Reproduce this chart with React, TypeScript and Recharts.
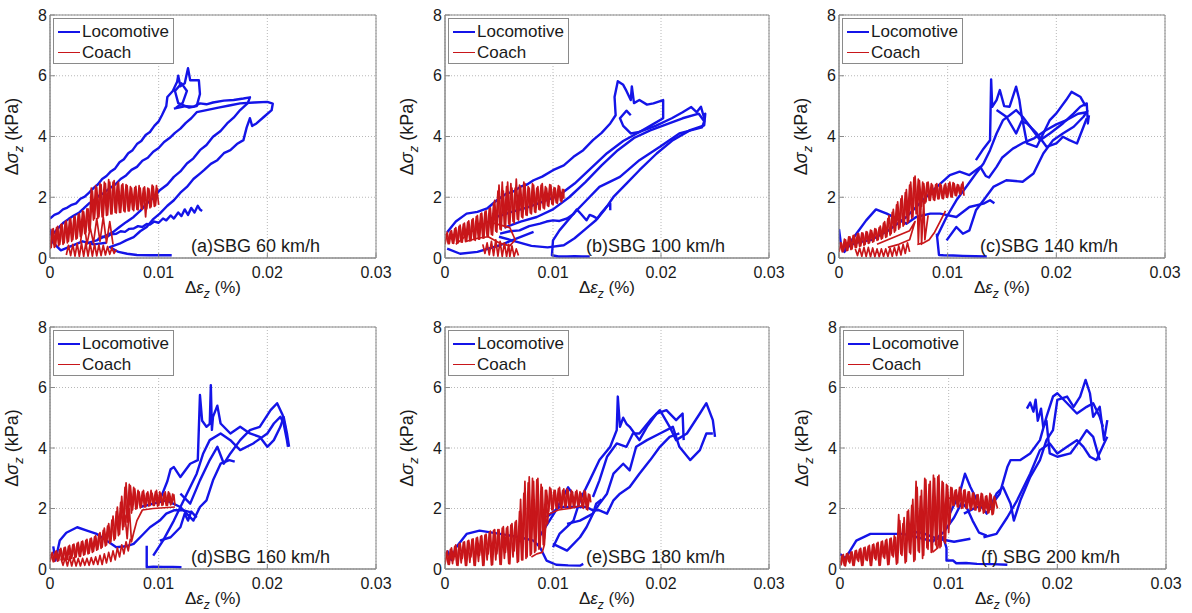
import React from 'react';
import { LineChart, Line, XAxis, YAxis, CartesianGrid, ReferenceArea } from 'recharts';

type Seg = number[][];

const seriesNames = ['Locomotive', 'Coach'];
const panelTitles = [
  '(a)SBG 60 km/h',
  '(b)SBG 100 km/h',
  '(c)SBG 140 km/h',
  '(d)SBG 160 km/h',
  '(e)SBG 180 km/h',
  '(f) SBG 200 km/h',
];
const xTicks = [0, 0.01, 0.02, 0.03];
const yTicks = [0, 2, 4, 6, 8];

// (a) 60 km/h  -- points are [strain %, stress kPa]
const locoA: Seg[] = [
  [[0, 1.3], [.0004, 1.42], [.0008, 1.48], [.0012, 1.6], [.0016, 1.66], [.002, 1.75], [.0024, 1.8], [.0028, 1.95], [.0032, 2.02], [.0036, 2.15], [.004, 2.3], [.0044, 2.42], [.0048, 2.6], [.0052, 2.7], [.0056, 2.85], [.006, 2.95], [.0064, 3.15], [.0068, 3.25], [.0072, 3.45], [.0076, 3.55], [.008, 3.75], [.0084, 3.85], [.0088, 4.05], [.0092, 4.15], [.0096, 4.35], [.01, 4.5], [.0103, 4.7], [.0107, 5.0], [.0108, 5.3], [.0113, 5.5], [.0117, 5.8], [.0118, 6.0], [.012, 5.65], [.0124, 5.75], [.0127, 6.25], [.0129, 5.85], [.0137, 5.85], [.0138, 5.4], [.0135, 5.0], [.0128, 4.95], [.0118, 5.1], [.0115, 5.5], [.0121, 5.75], [.0126, 5.5], [.0122, 5.1], [.0116, 4.95]],
  [[.0114, 4.92], [.0125, 5.0], [.0132, 4.98], [.0138, 5.09], [.0144, 5.06], [.015, 5.12], [.016, 5.18], [.0169, 5.2], [.0178, 5.25], [.0184, 5.29], [.0182, 5.1], [.0175, 4.87], [.0169, 4.62], [.0163, 4.43], [.0157, 4.18], [.015, 3.99], [.0144, 3.72], [.0138, 3.55], [.0132, 3.28], [.0126, 3.11], [.012, 2.85], [.0114, 2.67], [.0108, 2.42], [.0101, 2.23], [.0095, 1.98], [.0089, 1.79], [.0083, 1.55], [.0077, 1.35], [.007, 1.18], [.0064, 1.02], [.0058, .85], [.0052, 0.75], [.0043, 0.58], [.0035, 0.5]],
  [[.0003, .8], [.0008, 1.0], [.0012, 1.15], [.0017, 1.28], [.0022, 1.4], [.0027, 1.5], [.0031, 1.63], [.0036, 1.8], [.004, 1.88], [.0045, 2.05], [.005, 2.15], [.0055, 2.3], [.006, 2.42], [.0065, 2.6], [.007, 2.72], [.0075, 2.9], [.008, 3.0], [.0085, 3.2], [.009, 3.3], [.0095, 3.5], [.01, 3.62], [.0105, 3.82], [.011, 3.95], [.0115, 4.12], [.012, 4.26], [.0125, 4.45], [.013, 4.6], [.0135, 4.8], [.0144, 4.87], [.0155, 4.95], [.0165, 5.02], [.0175, 5.09], [.0188, 5.12], [.02, 5.14], [.0205, 5.08], [.0204, 4.87], [.0197, 4.65], [.019, 4.43], [.0186, 4.35], [.0184, 4.6], [.0181, 4.3], [.0178, 3.88], [.0172, 3.75], [.0166, 3.55], [.016, 3.45], [.0154, 3.22], [.0148, 3.1], [.0142, 2.9], [.0138, 2.78], [.0132, 2.6], [.0126, 2.34], [.012, 2.15], [.0114, 1.9], [.0108, 1.72], [.0101, 1.46], [.0095, 1.28], [.0089, 1.02], [.0083, .88], [.0077, .69], [.007, .58], [.0064, .47], [.0055, .36], [.0063, 0.2], [.0071, 0.14], [.008, 0.1], [.0092, 0.09], [.0102, 0.09], [.0112, 0.09]],
  [[.0044, .62], [.0048, .7], [.0052, .68], [.0056, .78], [.0061, .8], [.0065, .88], [.0069, .86], [.0073, .96], [.0077, .97], [.0081, 1.05], [.0085, 1.02], [.0089, 1.12], [.0092, 1.1], [.0096, 1.2], [.01, 1.16], [.0104, 1.3], [.0107, 1.24], [.0111, 1.4], [.0114, 1.3], [.0118, 1.5], [.0121, 1.38], [.0124, 1.6], [.0127, 1.42], [.013, 1.65], [.0133, 1.5], [.0136, 1.72], [.0138, 1.6], [.014, 1.55]],
  [[0, 0.95], [.0003, 0.5], [.001, 0.25], [.002, 0.4], [.003, 0.55], [.004, 0.45], [.0052, 0.5]],
];
const coachA: Seg[] = [
  [[0, .3], [.0002, .94], [.0004, .35], [.0006, 1.0], [.0008, .4], [.001, 1.1], [.0012, .45], [.0014, 1.18], [.0016, .5], [.0018, 1.26], [.002, .55], [.0022, 1.34], [.0024, .62], [.0026, 1.44], [.0028, .7], [.003, 1.55], [.0032, .8], [.0034, 1.62], [.0036, .9], [.0038, 2.3], [.004, 1.25], [.0042, 2.38], [.0044, 1.3], [.0046, 2.45], [.0048, 1.35], [.005, 2.5], [.0052, 1.4], [.0054, 2.58], [.0056, 1.45], [.0058, 2.5], [.006, 1.5], [.0062, 2.45], [.0064, 1.5], [.0066, 2.4], [.0068, 1.55], [.007, 2.42], [.0072, 1.55], [.0074, 2.35], [.0076, 1.6], [.0078, 2.32], [.008, 1.6], [.0082, 2.38], [.0084, 1.62], [.0086, 2.3], [.0088, 1.35], [.009, 2.3], [.0092, 1.65], [.0094, 2.4], [.0096, 1.7], [.0098, 2.38], [.01, 1.75]],
  [[.0099, 2.3], [.0097, 1.72], [.0095, 2.36], [.0093, 1.68], [.0091, 2.28], [.0089, 1.62], [.0087, 2.34], [.0085, 1.6], [.0083, 2.3], [.0081, 1.58], [.0079, 2.36], [.0077, 1.56], [.0075, 2.3], [.0073, 1.55], [.0071, 2.38], [.0069, 1.52], [.0067, 2.44], [.0065, 1.5], [.0063, 2.5], [.0061, 1.48], [.0059, 2.55], [.0057, 1.45], [.0055, 2.5], [.0053, 1.42], [.0051, 2.45], [.0049, 1.38], [.0047, 2.42], [.0045, 1.35], [.0043, 2.32], [.0041, 1.3], [.0039, 2.2], [.0037, 1.0], [.0035, 1.62], [.0033, .85], [.0031, 1.52], [.0029, .75], [.0027, 1.46], [.0025, .65], [.0023, 1.38], [.0021, .6], [.0019, 1.3], [.0017, .55], [.0015, 1.22], [.0013, .5], [.0011, 1.12], [.0009, .45], [.0007, 1.04], [.0005, .38], [.0003, .97], [.0001, .32]],
  [[.0015, .1], [.0017, .42], [.0019, .08], [.0021, .45], [.0023, .06], [.0025, .48], [.0027, .05], [.0029, .5], [.0031, .05], [.0033, .5], [.0035, .06], [.0037, .48], [.0039, .06], [.0041, .46], [.0043, .07], [.0045, .44], [.0047, .08], [.0049, .42], [.0051, .1], [.0053, .38], [.0055, .12], [.0057, .34], [.0059, .15], [.0061, .28]],
  [[.0028, .5], [.0031, 1.3], [.0034, .45], [.0037, 1.0], [.004, .5], [.0043, 1.3], [.0046, .55], [.0049, 1.35], [.0052, .5], [.0055, 1.2], [.0058, .45]],
];

// (b) 100 km/h
const locoB: Seg[] = [
  [[.0002, 0.85], [.001, 1.2], [.002, 1.46], [.003, 1.52], [.0039, 1.63], [.0048, 1.9], [.0057, 2.12], [.0064, 2.2], [.007, 2.35], [.0076, 2.42], [.0082, 2.56], [.009, 2.68], [.01, 2.89], [.011, 3.05], [.0119, 3.33], [.0128, 3.55], [.0137, 3.88], [.0145, 4.12], [.0153, 4.43], [.0158, 4.7], [.0157, 5.3], [.016, 5.82], [.0165, 5.7], [.0168, 5.5], [.0172, 5.2], [.0173, 5.65], [.0175, 5.1], [.018, 5.2], [.0187, 5.05], [.0193, 5.09], [.0202, 5.2], [.0202, 4.6], [.019, 4.35], [.018, 4.15], [.0172, 4.1], [.0165, 4.35], [.0162, 4.6], [.0168, 4.85], [.0172, 4.7]],
  [[.0047, 1.35], [.006, 1.5], [.0075, 1.65], [.009, 1.85], [.0105, 2.05], [.012, 2.45], [.0135, 2.95], [.015, 3.45], [.0165, 3.85], [.018, 4.15], [.0195, 4.35], [.021, 4.6], [.022, 4.8], [.0228, 4.97], [.0233, 4.8], [.0237, 4.98], [.024, 4.6], [.0241, 4.75], [.024, 4.37], [.0227, 4.21], [.0211, 3.88], [.0196, 3.44], [.018, 2.89], [.0168, 2.45], [.0156, 2.01], [.0148, 1.6], [.014, 1.25], [.013, 0.95], [.012, 0.65], [.011, 0.42], [.0095, 0.35], [.008, 0.4], [.0065, 0.55], [.005, 0.7]],
  [[.0055, 1.0], [.007, 1.2], [.0085, 1.35], [.01, 1.6], [.0115, 2.0], [.013, 2.5], [.0145, 3.05], [.016, 3.55], [.0175, 3.95], [.019, 4.2], [.0205, 4.4], [.022, 4.6], [.0235, 4.75], [.024, 4.5], [.0238, 4.3], [.0217, 4.1], [.0199, 3.66], [.018, 3.22], [.0162, 2.67], [.0143, 2.34], [.0131, 1.9], [.0119, 1.46], [.0106, 0.91], [.01, 0.58], [.0099, 0.09], [.0105, 0.05], [.0113, 0.05], [.012, 0.06], [.0127, 0.05], [.0134, 0.05]],
  [[.0051, 0.8], [.006, .88], [.0069, 0.91], [.0078, 1.05], [.0088, 1.13], [.0094, 1.2], [.01, 1.24], [.0106, 1.22], [.0113, 1.3], [.0119, 1.45], [.0122, 1.6], [.0126, 1.45], [.0131, 1.24], [.0134, 1.42], [.0137, 1.38], [.0141, 1.3], [.0145, 1.5], [.015, 1.7], [.0153, 1.79], [.0153, 1.57]],
  [[.0002, 0.31], [.0014, 0.14], [.003, 0.2], [.0051, 0.42], [.0066, 0.64], [.0082, 0.86]],
];
const coachB: Seg[] = [
  [[0, .45], [.0002, .85], [.0004, .47], [.0006, .9], [.0008, .48], [.001, 1.0], [.0012, .5], [.0014, 1.08], [.0016, .52], [.0018, 1.15], [.002, .55], [.0022, 1.22], [.0024, .57], [.0026, 1.3], [.0028, .58], [.003, 1.4], [.0032, .62], [.0034, 1.48], [.0036, .65], [.0038, 1.55], [.004, .7], [.0042, 1.65], [.0044, .75], [.0046, 1.9], [.0048, .85], [.005, 2.4], [.0052, .92], [.0054, 2.2], [.0056, 1.0], [.0058, 2.5], [.006, 1.1], [.0062, 2.3], [.0064, 1.15], [.0066, 2.6], [.0068, 1.25], [.007, 2.35], [.0072, 1.32], [.0074, 2.45], [.0076, 1.4], [.0078, 2.3], [.008, 1.45], [.0082, 2.4], [.0084, 1.5], [.0086, 2.35], [.0088, 1.58], [.009, 2.45], [.0092, 1.62], [.0094, 2.3], [.0096, 1.7], [.0098, 2.4], [.01, 1.75], [.0102, 2.3], [.0104, 1.8], [.0106, 2.35], [.0108, 1.85], [.011, 2.25], [.011, 1.95]],
  [[.0109, 2.28], [.0107, 1.88], [.0105, 2.38], [.0103, 1.82], [.0101, 2.32], [.0099, 1.78], [.0097, 2.42], [.0095, 1.72], [.0093, 2.35], [.0091, 1.65], [.0089, 2.4], [.0087, 1.6], [.0085, 2.3], [.0083, 1.52], [.0081, 2.45], [.0079, 1.48], [.0077, 2.35], [.0075, 1.42], [.0073, 2.5], [.0071, 1.35], [.0069, 2.4], [.0067, 1.28], [.0065, 2.3], [.0063, 1.2], [.0061, 2.45], [.0059, 1.12], [.0057, 2.35], [.0055, 1.05], [.0053, 2.5], [.0051, .95], [.0049, 2.2], [.0047, .88], [.0045, 1.8], [.0043, .78], [.0041, 1.62], [.0039, .72], [.0037, 1.52], [.0035, .66], [.0033, 1.45], [.0031, .62], [.0029, 1.36], [.0027, .6], [.0025, 1.26], [.0023, .56], [.0021, 1.18], [.0019, .54], [.0017, 1.12], [.0015, .52], [.0013, 1.04], [.0011, .5], [.0009, .96], [.0007, .49], [.0005, .88], [.0003, .47], [.0001, .8]],
  [[.0035, .45], [.0037, .15], [.0039, .5], [.0041, .1], [.0043, .55], [.0045, .08], [.0047, .6], [.0049, .06], [.0051, .55], [.0053, .05], [.0055, .5], [.0057, .05], [.0059, .45], [.006, .05], [.0062, .4], [.0064, .05], [.0066, .3], [.0068, .08]],
  [[.001, .45], [.002, .75], [.003, 1.0], [.004, 1.2], [.005, 1.1], [.006, 1.0], [.0065, .6], [.006, .4], [.005, .5], [.004, .7], [.003, .65], [.002, .55]],
];

// (c) 140 km/h
const locoC: Seg[] = [
  [[0, 0.95], [.0002, 0.4], [.0005, 0.2], [.001, 0.5], [.0016, 0.8], [.0025, 1.24], [.0034, 1.6], [.0044, 1.46], [.0056, 1.24], [.0062, 1.13], [.0071, 1.35], [.0084, 1.46], [.0093, 1.46], [.0108, 1.35], [.012, 1.68], [.0133, 1.79], [.0139, 1.9], [.0143, 1.8]],
  [[.0005, 0.3], [.0015, 0.5], [.003, 0.6], [.0045, 0.9], [.0062, 1.35], [.0077, 1.9], [.009, 2.34], [.0102, 2.73], [.0111, 2.84], [.012, 2.73], [.013, 3.0], [.0135, 2.7], [.0138, 2.65], [.0145, 3.0], [.015, 3.3], [.016, 3.6], [.017, 3.8], [.018, 3.95], [.019, 4.2], [.02, 4.4], [.021, 4.55], [.022, 4.75], [.0228, 4.8]],
  [[.009, 0.69], [.0099, 1.35], [.0108, 1.9], [.0117, 2.34], [.0126, 2.78], [.0133, 3.11], [.0139, 3.55], [.0145, 4.1], [.0151, 4.54], [.0157, 4.7], [.0163, 4.87], [.0169, 4.65], [.0176, 4.32], [.0185, 3.88], [.0194, 4.1], [.0206, 4.43], [.0216, 4.76], [.0222, 4.98], [.0228, 5.09], [.0229, 4.43], [.023, 4.7]],
  [[.0099, 0.58], [.0108, 1.02], [.0114, 0.8], [.012, 0.91], [.0126, 1.57], [.0133, 1.9], [.0142, 2.34], [.0154, 2.56], [.0169, 2.51], [.0179, 2.78], [.0188, 3.44], [.0197, 3.88], [.0206, 4.1], [.0216, 4.32], [.0225, 4.65], [.0229, 4.87]],
  [[.0126, 3.22], [.0133, 3.6], [.0139, 3.88], [.014, 5.88], [.0141, 4.98], [.0145, 5.2], [.0148, 5.53], [.0152, 5.0], [.0157, 4.98], [.0163, 5.64], [.0166, 5.2], [.0168, 4.7], [.0173, 3.77], [.0182, 3.66], [.0188, 4.1], [.0194, 4.54], [.02, 4.76], [.0209, 5.2], [.0214, 5.47], [.0222, 5.31], [.0227, 5.0]],
  [[.0145, 4.87], [.0154, 4.65], [.0163, 4.1], [.0168, 4.5], [.0173, 4.43], [.0182, 4.1], [.0191, 3.66], [.02, 3.77], [.0206, 3.99], [.0212, 3.88], [.0219, 3.77], [.0225, 4.32], [.0228, 4.6]],
  [[.009, 0.8], [.0092, 0.1], [.0096, 0.09], [.0105, 0.08], [.0114, 0.07], [.0125, 0.06], [.0136, 0.05]],
];
const coachC: Seg[] = [
  [[0, .2], [.0002, .5], [.0004, .22], [.0006, .6], [.0008, .25], [.001, .7], [.0012, .3], [.0014, .75], [.0016, .35], [.0018, .8], [.002, .4], [.0022, .82], [.0024, .45], [.0026, .85], [.0028, .5], [.003, .9], [.0032, .55], [.0034, .95], [.0036, .6], [.0038, 1.05], [.004, .65], [.0042, 1.2], [.0044, .7], [.0046, 1.4], [.0048, .8], [.005, 1.6], [.0052, .9], [.0054, 1.85], [.0056, 1.0], [.0058, 2.05], [.006, 1.1], [.0062, 2.25], [.0064, 1.2], [.0066, 2.5], [.0068, 1.35], [.007, 2.7], [.0072, 1.5], [.0074, 2.55], [.0076, 1.7], [.0078, 2.45], [.008, 1.85], [.0082, 2.5], [.0084, 1.9], [.0086, 2.4], [.0088, 1.9], [.009, 2.45], [.0092, 1.95], [.0094, 2.4], [.0096, 1.95], [.0098, 2.45], [.01, 2.0], [.0102, 2.5], [.0104, 2.0], [.0106, 2.45], [.0108, 2.05], [.011, 2.4], [.0112, 2.1], [.0114, 2.5], [.0115, 2.05]],
  [[.0113, 2.45], [.0111, 2.12], [.0109, 2.42], [.0107, 2.06], [.0105, 2.48], [.0103, 2.02], [.0101, 2.45], [.0099, 2.0], [.0097, 2.4], [.0095, 1.96], [.0093, 2.45], [.0091, 1.95], [.0089, 2.42], [.0087, 1.92], [.0085, 2.45], [.0083, 1.9], [.0081, 2.48], [.0079, 1.8], [.0077, 2.5], [.0075, 1.6], [.0073, 2.6], [.0071, 1.45], [.0069, 2.65], [.0067, 1.3], [.0065, 2.4], [.0063, 1.15], [.0061, 2.15], [.0059, 1.05], [.0057, 1.95], [.0055, .95], [.0053, 1.75], [.0051, .85], [.0049, 1.5], [.0047, .75], [.0045, 1.3], [.0043, .68], [.0041, 1.15], [.0039, .62], [.0037, 1.0], [.0035, .58], [.0033, .97], [.0031, .52], [.0029, .92], [.0027, .48], [.0025, .87], [.0023, .42], [.0021, .83], [.0019, .38], [.0017, .8], [.0015, .34], [.0013, .74], [.0011, .28], [.0009, .7], [.0007, .24], [.0005, .62], [.0003, .2], [.0001, .52]],
  [[.0015, .3], [.0017, .08], [.0019, .32], [.0021, .06], [.0023, .35], [.0025, .05], [.0027, .35], [.0029, .04], [.0031, .33], [.0033, .04], [.0035, .3], [.0037, .04], [.0039, .3], [.0041, .05], [.0043, .3], [.0045, .05], [.0047, .32], [.0049, .06], [.0051, .35], [.0053, .08], [.0055, .4], [.0057, .1], [.0059, .45], [.0061, .15], [.0063, .5], [.0065, .2]],
  [[.0072, 2.0], [.0073, .5], [.0075, 2.1], [.0076, .45], [.0078, 1.9], [.0079, .6], [.0082, 1.4]],
  [[.0098, 1.55], [.0093, 1.2], [.0088, .85], [.0083, .6], [.0078, .5], [.0072, .45]],
  [[.0035, .45], [.0045, .6], [.0055, .75], [.0065, .9], [.007, 1.2], [.0065, .6], [.0055, .45], [.0045, .35]],
];

// (d) 160 km/h
const locoD: Seg[] = [
  [[.0003, 0.75], [.0005, 0.28], [.0009, 0.94], [.0015, 1.2], [.0025, 1.38], [.0034, 1.27], [.0043, 1.16], [.0052, 0.94], [.0061, 0.72], [.007, 0.75], [.0077, 0.83], [.0083, 1.05], [.0092, 1.38], [.0101, 1.6], [.0107, 1.83], [.0114, 1.94], [.0123, 1.94], [.0129, 1.88]],
  [[.0095, 0.44], [.0104, 0.94], [.0114, 1.6], [.012, 2.05], [.0126, 2.49], [.0135, 3.15], [.0141, 3.82], [.0147, 4.26], [.0157, 4.48], [.0166, 4.26], [.0175, 3.93], [.0187, 4.15], [.02, 4.48], [.0206, 4.81], [.0212, 5.03], [.0215, 4.81], [.0218, 4.26], [.0219, 4.04]],
  [[.0101, 2.27], [.0108, 2.9], [.0111, 3.3], [.0114, 3.37], [.012, 3.04], [.0129, 3.48], [.0136, 3.6], [.0138, 5.75], [.014, 4.9], [.0144, 4.7], [.0147, 4.8], [.0148, 6.08], [.0149, 4.6], [.015, 5.03], [.0154, 5.4], [.0157, 4.81], [.0166, 4.48], [.0175, 4.7], [.0184, 4.48], [.0193, 4.37], [.02, 4.04], [.0206, 4.26], [.0212, 4.7], [.0215, 5.03], [.0218, 4.5], [.022, 4.04]],
  [[.012, 2.49], [.0129, 2.16], [.0138, 2.93], [.0147, 3.6], [.0154, 4.04], [.016, 3.48], [.0166, 3.82], [.0175, 4.26], [.0184, 4.59], [.0193, 4.7], [.0203, 5.25], [.0209, 5.48], [.0214, 5.1], [.0217, 4.6]],
  [[.0083, 2.05], [.0095, 2.16], [.0107, 2.27], [.012, 2.05], [.0132, 1.6], [.0138, 2.05], [.0144, 2.27], [.015, 2.93], [.0157, 3.48], [.0165, 3.6], [.017, 3.55]],
  [[.0089, 0.77], [.0089, 0.06], [.0095, 0.08], [.0104, 0.07], [.0113, 0.07], [.0121, 0.06]],
  [[.0101, 0.94], [.0111, 1.05], [.012, 1.38], [.0124, 1.83], [.0127, 1.6], [.013, 1.9], [.0135, 1.7]],
];
const coachD: Seg[] = [
  [[0, .25], [.0002, .55], [.0004, .25], [.0006, .6], [.0008, .28], [.001, .68], [.0012, .3], [.0014, .72], [.0016, .32], [.0018, .78], [.002, .35], [.0022, .82], [.0024, .4], [.0026, .88], [.0028, .42], [.003, .92], [.0032, .48], [.0034, .98], [.0036, .52], [.0038, 1.02], [.004, .58], [.0042, 1.1], [.0044, .65], [.0046, 1.2], [.0048, .72], [.005, 1.35], [.0052, .8], [.0054, 1.5], [.0056, .9], [.0058, 1.75], [.006, 1.0], [.0062, 2.05], [.0064, 1.15], [.0066, 2.4], [.0068, 1.4], [.007, 2.85], [.0072, 1.7], [.0074, 2.75], [.0076, 1.95], [.0078, 2.65], [.008, 2.0], [.0082, 2.55], [.0084, 2.05], [.0086, 2.6], [.0088, 2.05], [.009, 2.55], [.0092, 2.1], [.0094, 2.5], [.0096, 2.1], [.0098, 2.6], [.01, 2.1], [.0102, 2.5], [.0104, 2.12], [.0106, 2.55], [.0108, 2.1], [.011, 2.5], [.0112, 2.15], [.0114, 2.45], [.0115, 2.1]],
  [[.0113, 2.5], [.0111, 2.12], [.0109, 2.55], [.0107, 2.1], [.0105, 2.5], [.0103, 2.1], [.0101, 2.55], [.0099, 2.08], [.0097, 2.55], [.0095, 2.1], [.0093, 2.6], [.0091, 2.08], [.0089, 2.5], [.0087, 2.05], [.0085, 2.55], [.0083, 2.02], [.0081, 2.6], [.0079, 1.98], [.0077, 2.7], [.0075, 1.85], [.0073, 2.8], [.0071, 1.55], [.0069, 2.7], [.0067, 1.3], [.0065, 2.2], [.0063, 1.1], [.0061, 1.9], [.0059, .95], [.0057, 1.62], [.0055, .85], [.0053, 1.42], [.0051, .76], [.0049, 1.28], [.0047, .68], [.0045, 1.15], [.0043, .62], [.0041, 1.06], [.0039, .55], [.0037, 1.0], [.0035, .5], [.0033, .95], [.0031, .46], [.0029, .9], [.0027, .42], [.0025, .85], [.0023, .38], [.0021, .8], [.0019, .34], [.0017, .75], [.0015, .3], [.0013, .7], [.0011, .28], [.0009, .64], [.0007, .26], [.0005, .58], [.0003, .24], [.0001, .5]],
  [[.001, .35], [.0012, .12], [.0014, .38], [.0016, .1], [.0018, .4], [.002, .1], [.0022, .38], [.0024, .1], [.0026, .35], [.0028, .1], [.003, .35], [.0032, .12], [.0034, .35], [.0036, .12], [.0038, .38], [.004, .15], [.0042, .4], [.0044, .15], [.0046, .45], [.0048, .15], [.005, .5], [.0052, .2], [.0054, .55], [.0056, .25], [.0058, .6], [.006, .3], [.0062, .7], [.0064, .4], [.0066, .8], [.0068, .5], [.007, .9], [.0072, .6], [.0074, 1.0]],
  [[.0115, 2.05], [.0095, 2.0], [.0085, 1.95], [.008, 1.6], [.0077, 1.2], [.0075, .9], [.0073, 2.0], [.0071, 1.0], [.0069, 1.8]],
];

// (e) 180 km/h
const locoE: Seg[] = [
  [[.0002, 0.61], [.0006, 0.3], [.001, 0.7], [.002, 1.16], [.0032, 1.27], [.0051, 1.16], [.0069, 1.05], [.0082, 0.94], [.0088, 0.72], [.0094, 0.28], [.0103, 0.14], [.0114, 0.12], [.0125, 0.11], [.0128, 0.17]],
  [[.01, 0.72], [.0106, 1.16], [.0119, 1.6], [.0125, 2.27], [.0134, 2.93], [.0143, 3.6], [.0153, 4.04], [.0159, 4.59], [.016, 5.7], [.0162, 4.7], [.0165, 5.0], [.0168, 4.8], [.0171, 4.7], [.018, 4.26], [.0187, 4.7], [.0196, 5.14], [.0205, 5.25], [.0214, 4.92], [.022, 5.14], [.0221, 4.26]],
  [[.0113, 1.49], [.0125, 1.6], [.0137, 1.83], [.0143, 2.16], [.015, 2.49], [.0156, 3.15], [.0165, 3.48], [.0171, 3.26], [.0177, 4.04], [.0187, 4.26], [.0199, 4.48], [.0211, 4.7], [.0217, 4.04], [.0227, 3.6], [.0236, 3.93], [.0242, 4.48], [.0248, 4.48]],
  [[.0137, 2.38], [.0143, 2.93], [.015, 3.71], [.0159, 4.15], [.0168, 4.04], [.0174, 4.48], [.018, 4.48], [.019, 4.92], [.0199, 5.25], [.0208, 4.7], [.0214, 4.26], [.0224, 4.48], [.0236, 5.14], [.0242, 5.48], [.0248, 4.92], [.025, 4.37]],
  [[.0094, 1.71], [.0106, 2.05], [.0119, 2.05], [.0131, 2.05], [.0137, 1.94], [.0143, 1.94], [.015, 1.83], [.0156, 2.27], [.0162, 2.49], [.0171, 2.71], [.018, 3.15], [.019, 3.6], [.0199, 4.04], [.0208, 4.37], [.0217, 4.48]],
  [[.01, 0.83], [.0113, 0.61], [.0125, 1.05], [.0131, 1.38], [.0137, 1.83], [.014, 2.16], [.0145, 2.3]],
  [[.0088, 1.1], [.0095, 1.5], [.0102, 1.9], [.0108, 2.3], [.0114, 2.7], [.0118, 2.5]],
];
const coachE: Seg[] = [
  [[0, .15], [.0002, .6], [.0004, .15], [.0006, .7], [.0008, .3], [.001, .8], [.0012, .12], [.0014, .85], [.0016, .35], [.0018, .9], [.002, .12], [.0022, .95], [.0024, .4], [.0026, 1.0], [.0028, .12], [.003, 1.05], [.0032, .45], [.0034, 1.1], [.0036, .12], [.0038, 1.15], [.004, .5], [.0042, 1.25], [.0044, .14], [.0046, 1.3], [.0048, .5], [.005, 1.3], [.0052, .15], [.0054, 1.4], [.0056, .55], [.0058, 1.4], [.006, .17], [.0062, 1.5], [.0064, .6], [.0066, 1.6], [.0068, .25], [.007, 2.3], [.0072, .3], [.0074, 2.9], [.0076, .4], [.0078, 3.05], [.008, .5], [.0082, 2.9], [.0084, .6], [.0086, 3.0], [.0088, .7], [.009, 2.7], [.0092, 1.0], [.0094, 2.6], [.0096, 1.9], [.0098, 2.65], [.01, 1.95], [.0102, 2.6], [.0104, 2.0], [.0106, 2.7], [.0108, 2.0], [.011, 2.65], [.0112, 2.05], [.0114, 2.6], [.0116, 2.0], [.0118, 2.55], [.012, 2.05], [.0122, 2.6], [.0124, 2.1], [.0126, 2.5], [.0128, 2.0], [.013, 2.55], [.0132, 1.95], [.0134, 2.45], [.0135, 2.2]],
  [[.0133, 2.5], [.0131, 1.98], [.0129, 2.6], [.0127, 2.05], [.0125, 2.55], [.0123, 2.12], [.0121, 2.55], [.0119, 2.05], [.0117, 2.6], [.0115, 2.02], [.0113, 2.65], [.0111, 2.05], [.0109, 2.6], [.0107, 2.02], [.0105, 2.65], [.0103, 2.0], [.0101, 2.6], [.0099, 1.95], [.0097, 2.7], [.0095, 1.5], [.0093, 2.6], [.0091, .8], [.0089, 2.8], [.0087, .65], [.0085, 2.95], [.0083, .55], [.0081, 3.0], [.0079, .45], [.0077, 2.85], [.0075, .35], [.0073, 2.5], [.0071, .3], [.0069, 1.9], [.0067, .22], [.0065, 1.55], [.0063, .4], [.0061, 1.45], [.0059, .18], [.0057, 1.35], [.0055, .35], [.0053, 1.35], [.0051, .15], [.0049, 1.3], [.0047, .3], [.0045, 1.28], [.0043, .13], [.0041, 1.2], [.0039, .3], [.0037, 1.12], [.0035, .12], [.0033, 1.08], [.0031, .25], [.0029, 1.02], [.0027, .12], [.0025, .98], [.0023, .22], [.0021, .92], [.0019, .12], [.0017, .88], [.0015, .2], [.0013, .82], [.0011, .13], [.0009, .75], [.0007, .18], [.0005, .65], [.0003, .15], [.0001, .55]],
  [[.0128, 2.1], [.0115, 2.0], [.0105, 1.95], [.0095, 1.8], [.0093, 1.3], [.0092, 0.8], [.009, 0.55], [.0085, 0.5], [.008, 0.4]],
];

// (f) 200 km/h
const locoF: Seg[] = [
  [[0, 0.5], [.0005, 0.35], [.0015, 0.94], [.0028, 1.16], [.0046, 1.16], [.0058, 1.16], [.0071, 1.05], [.0083, 0.94], [.0095, 1.05], [.0098, 0.7], [.0098, 0.28], [.0104, 0.28], [.0107, 0.19], [.0116, 0.2], [.0126, 0.17], [.014, 0.16], [.0154, 0.14]],
  [[.0101, 1.83], [.011, 2.49], [.0115, 3.15], [.012, 2.71], [.0126, 2.27], [.0135, 1.83], [.0144, 2.49], [.015, 2.71], [.0157, 2.16], [.016, 1.6], [.0166, 2.27], [.0175, 3.04], [.0184, 3.6], [.019, 4.26], [.0196, 4.59], [.02, 5.59], [.0209, 5.7], [.0215, 5.36], [.0221, 5.7], [.0226, 6.25], [.023, 5.81], [.0233, 5.03], [.0239, 5.36], [.0243, 4.26], [.0246, 4.92]],
  [[.0114, 1.83], [.0126, 2.05], [.0138, 2.05], [.0147, 2.49], [.0154, 3.37], [.0157, 3.6], [.0166, 3.6], [.0175, 3.82], [.0184, 4.26], [.019, 5.03], [.0196, 5.7], [.02, 5.81], [.0209, 5.48], [.0218, 5.14], [.0227, 5.36], [.0233, 5.48], [.0239, 5.03], [.0242, 4.7]],
  [[.0132, 1.05], [.0144, 1.16], [.0154, 1.71], [.0163, 2.27], [.0175, 3.15], [.0184, 3.93], [.0193, 4.15], [.02, 3.82], [.0209, 4.04], [.0218, 4.26], [.0224, 4.04], [.023, 3.71], [.0236, 3.6], [.0243, 4.15], [.0246, 4.37]],
  [[.0172, 5.3], [.0175, 5.5], [.0178, 5.2], [.018, 5.6], [.0182, 4.9], [.0185, 5.3], [.0187, 4.7], [.019, 4.9], [.0193, 3.82], [.02, 3.71], [.0212, 3.82], [.0221, 4.26], [.0227, 4.59], [.0233, 4.37], [.0239, 3.6]],
  [[.0085, 0.9], [.0095, 1.2], [.0105, 1.7], [.0112, 2.2], [.0117, 2.0], [.0122, 1.6], [.0128, 1.2], [.0135, 1.1]],
  [[.0062, 1.25], [.0075, 1.2], [.009, 1.0], [.0105, 0.9], [.012, 1.0]],
];
const coachF: Seg[] = [
  [[0, .1], [.0002, .45], [.0004, .12], [.0006, .5], [.0008, .25], [.001, .55], [.0012, .12], [.0014, .6], [.0016, .3], [.0018, .65], [.002, .12], [.0022, .7], [.0024, .3], [.0026, .75], [.0028, .12], [.003, .8], [.0032, .35], [.0034, .85], [.0036, .12], [.0038, .9], [.004, .4], [.0042, .95], [.0044, .14], [.0046, 1.0], [.0048, .45], [.005, 1.1], [.0052, .16], [.0054, 1.8], [.0056, .5], [.0058, 1.5], [.006, .2], [.0062, 1.9], [.0064, .55], [.0066, 2.1], [.0068, .25], [.007, 2.9], [.0072, .6], [.0074, 2.4], [.0076, .35], [.0078, 3.0], [.008, .7], [.0082, 2.8], [.0084, .55], [.0086, 3.1], [.0088, .8], [.009, 3.05], [.0092, .7], [.0094, 2.9], [.0096, .9], [.0098, 2.8], [.01, 1.2], [.0102, 2.7], [.0104, 2.1], [.0106, 2.6], [.0108, 2.05], [.011, 2.7], [.0112, 2.0], [.0114, 2.6], [.0116, 2.0], [.0118, 2.55], [.012, 1.95], [.0122, 2.5], [.0124, 1.95], [.0126, 2.45], [.0128, 1.9], [.013, 2.5], [.0132, 1.85], [.0134, 2.4], [.0136, 1.85], [.0138, 2.5], [.014, 1.8], [.0142, 2.4], [.0145, 2.0]],
  [[.0143, 2.35], [.0141, 1.82], [.0139, 2.45], [.0137, 1.86], [.0135, 2.42], [.0133, 1.88], [.0131, 2.48], [.0129, 1.92], [.0127, 2.46], [.0125, 1.95], [.0123, 2.52], [.0121, 1.98], [.0119, 2.55], [.0117, 2.0], [.0115, 2.62], [.0113, 2.02], [.0111, 2.65], [.0109, 2.05], [.0107, 2.62], [.0105, 2.1], [.0103, 2.68], [.0101, 1.5], [.0099, 2.75], [.0097, .85], [.0095, 2.85], [.0093, .75], [.0091, 3.1], [.0089, .72], [.0087, 3.0], [.0085, .6], [.0083, 2.9], [.0081, .65], [.0079, 2.95], [.0077, .45], [.0075, 2.6], [.0073, .55], [.0071, 2.7], [.0069, .3], [.0067, 2.3], [.0065, .5], [.0063, 1.95], [.0061, .25], [.0059, 1.7], [.0057, .45], [.0055, 1.6], [.0053, .2], [.0051, 1.05], [.0049, .4], [.0047, 1.02], [.0045, .15], [.0043, .98], [.0041, .35], [.0039, .92], [.0037, .13], [.0035, .88], [.0033, .3], [.0031, .82], [.0029, .12], [.0027, .78], [.0025, .28], [.0023, .72], [.0021, .12], [.0019, .68], [.0017, .25], [.0015, .62], [.0013, .12], [.0011, .57], [.0009, .2], [.0007, .52], [.0005, .1], [.0003, .48], [.0001, .12]],
  [[.014, 1.95], [.013, 2.1], [.012, 2.2], [.011, 2.3], [.0098, 2.35], [.0093, 1.5], [.009, 0.7], [.0085, 0.55]],
];

const FONT = 'Arial, "Liberation Sans", Helvetica, sans-serif';
const BLUE = '#1414e8';
const RED = '#c8161a';
const TEXT = '#1a1a1a';
const FRAME = '#8a8a8a';

const toPoints = (seg: Seg) => seg.map(([x, y]) => ({ x, y }));

interface PanelProps {
  left: number;
  top: number;
  w: number;
  h: number;
  loco: Seg[];
  coach: Seg[];
  title: string;
}

const Panel = ({ left, top, w, h, loco, coach, title }: PanelProps) => {
  const ml = 50;
  const mt = 15;
  const yLabel = () => {
    const cx = 18;
    const cy = mt + h / 2;
    return (
      <text x={cx} y={cy} transform={`rotate(-90 ${cx} ${cy})`} textAnchor="middle" fontSize={18} fontFamily={FONT} fill={TEXT}>
        Δ<tspan fontStyle="italic">σ</tspan>
        <tspan fontStyle="italic" fontSize={13} dy={5}>z</tspan>
        <tspan dy={-5}> (kPa)</tspan>
      </text>
    );
  };
  const xLabel = () => {
    const cx = ml + w / 2;
    const cy = mt + h + 35;
    return (
      <text x={cx} y={cy} textAnchor="middle" fontSize={17} fontFamily={FONT} fill={TEXT}>
        Δ<tspan fontStyle="italic">ε</tspan>
        <tspan fontStyle="italic" fontSize={12} dy={5}>z</tspan>
        <tspan dy={-5}> (%)</tspan>
      </text>
    );
  };

  return (
    <div style={{ position: 'absolute', left: left - ml, top: top - mt, width: w + ml + 20, height: h + mt + 50 }}>
      <LineChart width={w + ml + 20} height={h + mt + 50} margin={{ top: mt, right: 20, bottom: 0, left: 0 }}>
        <CartesianGrid stroke="#b8b8b8" strokeDasharray="1 2" />
        <XAxis
          type="number"
          dataKey="x"
          domain={[0, 0.03]}
          ticks={xTicks}
          allowDataOverflow
          height={50}
          stroke={FRAME}
          tickSize={-5}
          tickMargin={14}
          tick={{ fontSize: 16, fill: TEXT, fontFamily: FONT }}
          label={{ content: xLabel }}
        />
        <XAxis
          xAxisId="top"
          orientation="top"
          type="number"
          domain={[0, 0.03]}
          ticks={xTicks}
          allowDataOverflow
          height={0}
          stroke={FRAME}
          axisLine={false}
          tickSize={-5}
          tick={false}
        />
        <YAxis
          type="number"
          domain={[0, 8]}
          ticks={yTicks}
          allowDataOverflow
          width={ml}
          stroke={FRAME}
          tickSize={-5}
          tickMargin={8}
          tick={{ fontSize: 16, fill: TEXT, fontFamily: FONT }}
          label={{ content: yLabel }}
        />
        <YAxis
          yAxisId="right"
          orientation="right"
          type="number"
          domain={[0, 8]}
          ticks={yTicks}
          allowDataOverflow
          width={0}
          stroke={FRAME}
          axisLine={false}
          tickSize={-5}
          tick={false}
        />
        <ReferenceArea x1={0} x2={0.03} y1={0} y2={8} fill="none" stroke={FRAME} strokeWidth={1} />
        {loco.map((s, i) => (
          <Line
            key={'l' + i}
            data={toPoints(s)}
            dataKey="y"
            stroke={BLUE}
            strokeWidth={2.4}
            strokeLinejoin="round"
            dot={false}
            activeDot={false}
            isAnimationActive={false}
          />
        ))}
        {coach.map((s, i) => (
          <Line
            key={'c' + i}
            data={toPoints(s)}
            dataKey="y"
            stroke={RED}
            strokeWidth={1.7}
            strokeLinejoin="round"
            dot={false}
            activeDot={false}
            isAnimationActive={false}
          />
        ))}
      </LineChart>

      {/* legend box, top left of the axes */}
      <div
        style={{
          position: 'absolute',
          left: ml + 3,
          top: mt + 3,
          width: 119,
          height: 44,
          border: `1px solid ${FRAME}`,
          background: '#fff',
          fontFamily: FONT,
          fontSize: 17,
          color: TEXT,
        }}
      >
        {seriesNames.map((n, i) => (
          <div key={n} style={{ position: 'absolute', left: 4, top: 3 + i * 20.5, height: 20, display: 'flex', alignItems: 'center', whiteSpace: 'nowrap' }}>
            <span style={{ display: 'inline-block', width: 22, height: i === 0 ? 2.4 : 1.6, background: i === 0 ? BLUE : RED, marginRight: 2 }} />
            <span>{n}</span>
          </div>
        ))}
      </div>

      <div
        style={{
          position: 'absolute',
          left: ml + 141,
          top: mt + h - 21,
          fontFamily: FONT,
          fontSize: 18,
          lineHeight: '18px',
          color: TEXT,
          whiteSpace: 'nowrap',
        }}
      >
        {title}
      </div>
    </div>
  );
};

const App = () => {
  return (
    <div style={{ position: 'absolute', left: 0, top: 0, width: 1192, height: 613, background: '#fff', overflow: 'hidden' }}>
      <Panel left={50} top={15} w={326} h={243} loco={locoA} coach={coachA} title={panelTitles[0]} />
      <Panel left={445} top={15} w={324} h={243} loco={locoB} coach={coachB} title={panelTitles[1]} />
      <Panel left={839} top={15} w={326} h={243} loco={locoC} coach={coachC} title={panelTitles[2]} />
      <Panel left={50} top={327} w={326} h={242} loco={locoD} coach={coachD} title={panelTitles[3]} />
      <Panel left={445} top={327} w={324} h={242} loco={locoE} coach={coachE} title={panelTitles[4]} />
      <Panel left={840} top={327} w={326} h={242} loco={locoF} coach={coachF} title={panelTitles[5]} />
    </div>
  );
};

export default App;
